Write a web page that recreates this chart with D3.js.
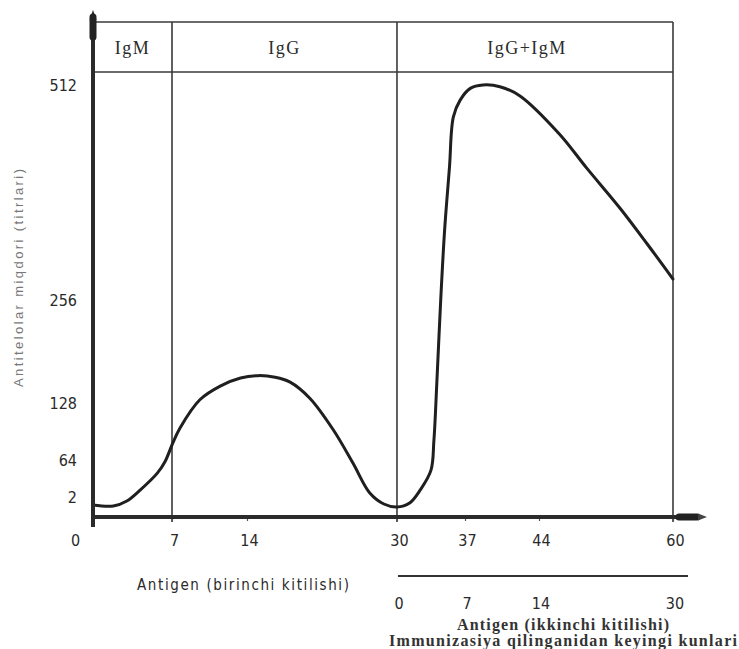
<!DOCTYPE html>
<html>
<head>
<meta charset="utf-8">
<script src="https://cdn.jsdelivr.net/npm/d3@7"></script>
<style>
  html, body { margin: 0; padding: 0; background: #fff; }
  svg { display: block; }
</style>
</head>
<body>
<svg id="chart" width="739" height="649"></svg>
<script>
// ---------------- data ----------------
const phaseNames  = ["IgM", "IgG", "IgG+IgM"];
const phaseBounds = [0, 7, 30, 60];                 // days where the phase columns change
const xTickValues = [0, 7, 14, 30, 37, 44, 60];     // days after first antigen
const x2TickValues = [0, 7, 14, 30];                // days after second antigen
const secondOffset = 30;                            // second antigen given on day 30
const yTickValues = [2, 64, 128, 256, 512];         // antibody titre ticks

const days   = [0, 1.8, 3.0, 4.2, 5.7, 6.4, 7.07, 7.75, 9.6, 11.5, 13.4, 15.2, 17, 18.6, 20.7, 23.2, 25.3, 27.1, 28.6, 30,
                31.3, 32.4, 33.5, 33.8, 34.1, 34.5, 34.9, 35.4, 35.8, 36.5, 37.5, 38.7, 40.3, 42.2, 46.4, 49.7, 53.7, 56.9, 60];
const titres = [1.2, 1.1, 1.6, 14, 42, 62, 83, 100, 132, 149, 159, 162, 160, 154, 134, 98, 59, 8.7, 1.3, 1.0,
                1.4, 14, 47, 86, 153, 256, 339, 414, 474, 494, 508, 512, 510, 499, 454, 413, 365, 323, 281];

const yTitle   = "Antitelolar miqdori (titrlari)";
const x1Title  = "Antigen (birinchi kitilishi)";
const x2Title  = "Antigen (ikkinchi kitilishi)";
const x2Title2 = "Immunizasiya qilinganidan keyingi kunlari";

// ---------------- layout ----------------
const svg = d3.select("#chart");
const mLeft = 93, mRight = 673, mTop = 22, headerBottom = 72, base = 517;
const W = mRight - mLeft;
// hand-drawn (non-uniform) axis spacing of the printed figure, as fractions of the width
const xFrac = [0, 0.1362, 0.2655, 0.5241, 0.6414, 0.7690, 1];
const x = d3.scaleLinear().domain(xTickValues).range(xFrac.map(f => mLeft + f * W));
// non-uniform printed titre axis, as fractions of the plotting height
const H = base - 85;
const yDom  = [0, 2, 64, 128, 256, 512];
const yFrac = [0, 0.0463, 0.1319, 0.2639, 0.5023, 1];
const y = d3.scaleLinear().domain(yDom).range(yFrac.map(f => base - f * H));

const dark = "#2a2a2a";
const narrow = "'Liberation Sans Narrow','DejaVu Sans Condensed','Arial Narrow',sans-serif";
const serif = "'Liberation Serif','Times New Roman',serif";

// ---------------- frame / header ----------------
const frame = svg.append("g").attr("stroke", "#3a3a3a").attr("stroke-width", 1.6).attr("fill", "none");
frame.append("line").attr("x1", mLeft).attr("x2", mRight).attr("y1", mTop).attr("y2", mTop);
frame.append("line").attr("x1", mLeft).attr("x2", mRight).attr("y1", headerBottom).attr("y2", headerBottom);
frame.selectAll("line.sep").data(phaseBounds.slice(1)).join("line")
  .attr("class", "sep")
  .attr("x1", d => x(d)).attr("x2", d => x(d))
  .attr("y1", mTop).attr("y2", base + 5);

svg.append("g").selectAll("text").data(phaseNames).join("text")
  .attr("x", (d, i) => (x(phaseBounds[i]) + x(phaseBounds[i + 1])) / 2 - (i === 2 ? 8 : 0))
  .attr("y", 54)
  .attr("text-anchor", "middle")
  .attr("font-family", serif)
  .attr("font-size", 18)
  .attr("letter-spacing", 1.5)
  .attr("fill", dark)
  .text(d => d);

// ---------------- curve ----------------
const pts = days.map((d, i) => [d, titres[i]]);
svg.append("path")
  .datum(pts)
  .attr("fill", "none")
  .attr("stroke", "#1f1f1f")
  .attr("stroke-width", 3)
  .attr("stroke-linejoin", "round")
  .attr("stroke-linecap", "round")
  .attr("d", d3.line().x(d => x(d[0])).y(d => y(d[1])).curve(d3.curveCatmullRom.alpha(0.5)));

// ---------------- axes ----------------
const xAxis = d3.axisBottom(x).tickValues(xTickValues).tickSize(4).tickPadding(14).tickFormat(d3.format("d"));
const gx = svg.append("g").attr("transform", `translate(0,${base})`).call(xAxis);
gx.select(".domain").remove();
gx.selectAll(".tick line").attr("stroke", "#555").attr("stroke-width", 1.2);
gx.selectAll(".tick text")
  .attr("font-family", narrow).attr("font-size", 16).attr("fill", dark)
  .attr("dx", d => d === 0 ? -18 : 2);

const yAxis = d3.axisLeft(y).tickValues(yTickValues).tickSize(0).tickPadding(16).tickFormat(d3.format("d"));
const gy = svg.append("g").attr("transform", `translate(${mLeft},0)`).call(yAxis);
gy.select(".domain").remove();
gy.selectAll(".tick text").attr("font-family", narrow).attr("font-size", 16).attr("fill", dark);

// thick axis lines with heavy arrow ends
const axisCol = "#2b2b2b";
svg.append("line").attr("x1", mLeft).attr("x2", mLeft).attr("y1", 20).attr("y2", base + 10)
  .attr("stroke", axisCol).attr("stroke-width", 4);
svg.append("line").attr("x1", mLeft - 2).attr("x2", mRight + 25).attr("y1", base).attr("y2", base)
  .attr("stroke", axisCol).attr("stroke-width", 4);
svg.append("line").attr("x1", mLeft).attr("x2", mLeft).attr("y1", 17).attr("y2", 37)
  .attr("stroke", "#222").attr("stroke-width", 7).attr("stroke-linecap", "round");
svg.append("path").attr("d", `M${mLeft},10 L${mLeft + 3.5},20 L${mLeft - 3.5},20 Z`).attr("fill", "#222");
svg.append("line").attr("x1", mRight + 6).attr("x2", mRight + 24).attr("y1", base).attr("y2", base)
  .attr("stroke", "#222").attr("stroke-width", 7).attr("stroke-linecap", "round");
svg.append("path").attr("d", `M${mRight + 34},${base} L${mRight + 25},${base - 3.5} L${mRight + 25},${base + 3.5} Z`).attr("fill", "#444");

// second axis (days after second antigen)
const x2 = v => x(v + secondOffset);
svg.append("line").attr("x1", x2(0) + 1).attr("x2", x2(30) + 15).attr("y1", 576).attr("y2", 576)
  .attr("stroke", "#333").attr("stroke-width", 2);
svg.append("g").selectAll("text").data(x2TickValues).join("text")
  .attr("x", d => x2(d) + 2).attr("y", 609)
  .attr("text-anchor", "middle")
  .attr("font-family", narrow).attr("font-size", 16).attr("fill", dark)
  .text(d => d);

// ---------------- titles ----------------
svg.append("text")
  .attr("transform", "translate(23,278) rotate(-90)")
  .attr("text-anchor", "middle")
  .attr("font-family", "'Liberation Sans','DejaVu Sans',sans-serif")
  .attr("font-size", 13).attr("fill", "#777")
  .attr("textLength", 218).attr("lengthAdjust", "spacing")
  .text(yTitle);

svg.append("text").attr("x", 243).attr("y", 590).attr("text-anchor", "middle")
  .attr("font-family", narrow).attr("font-size", 15).attr("fill", dark)
  .attr("textLength", 212).attr("lengthAdjust", "spacing")
  .text(x1Title);
svg.append("text").attr("x", 563).attr("y", 630).attr("text-anchor", "middle")
  .attr("font-family", serif).attr("font-size", 16).attr("font-weight", "bold").attr("fill", "#333")
  .attr("textLength", 212).attr("lengthAdjust", "spacing")
  .text(x2Title);
svg.append("text").attr("x", 563).attr("y", 646).attr("text-anchor", "middle")
  .attr("font-family", serif).attr("font-size", 16).attr("font-weight", "bold").attr("fill", "#333")
  .attr("textLength", 348).attr("lengthAdjust", "spacing")
  .text(x2Title2);
</script>
</body>
</html>
